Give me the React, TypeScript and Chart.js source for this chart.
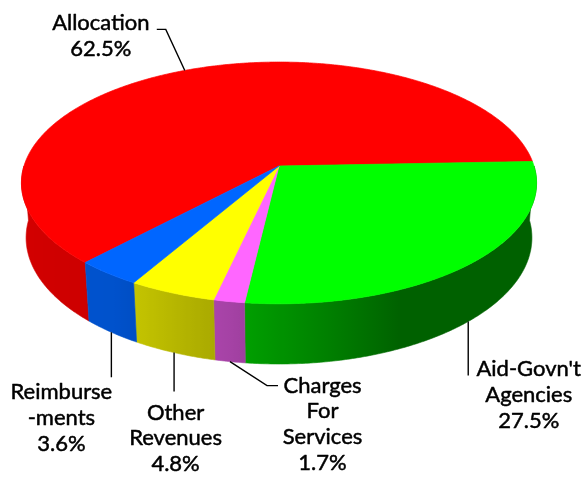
import React, { useEffect, useRef } from 'react';
import { Chart, registerables } from 'chart.js';

Chart.register(...registerables);

// ---- data ----
const categories = ['Allocation', "Aid-Govn't Agencies", 'Charges For Services', 'Other Revenues', 'Reimburse-ments'];
const values = [62.5, 27.5, 1.7, 4.8, 3.6];
const labelNameLines = [
  ['Allocation'],
  ["Aid-Govn't", 'Agencies'],
  ['Charges', 'For', 'Services'],
  ['Other', 'Revenues'],
  ['Reimburse', '-ments'],
];
const sliceColors = ['#ff0000', '#00ff00', '#ff66ff', '#ffff00', '#0066ff'];

// ---- view / style ----
const W = 587;
const H = 477;
const CX = 279;
const CY = 166;
const FOCAL = 1613;
const DIST = 6.325;
const SIN_A = 0.4647;
const COS_A = 0.8855;
const THICK = 0.245;
const FONT = '22px Lato, "Noto Sans", sans-serif';
const LINE_H = 25.7;

// leader line paths and text placement, relative to the slice anchor
const labelLayout = [
  { path: [[0, 0], [-19, -41], [-28, -41]], text: [-84, -40.5] },
  { path: [[0, 0], [0, 54]], text: [60.5, 55] },
  { path: [[0, 0], [37, 24], [48, 24]], text: [92.5, 31] },
  { path: [[0, 0], [0, 39]], text: [1.5, 67] },
  { path: [[0, 0], [0, 45]], text: [-50, 67] },
];

function project(phi: number, bottom: boolean) {
  const u = Math.cos(phi);
  const v = Math.sin(phi);
  const h = bottom ? THICK : 0;
  const den = DIST + h * SIN_A - v * COS_A;
  return { x: CX + (FOCAL * u) / den, y: CY + (FOCAL * (h * COS_A + v * SIN_A)) / den };
}

function brightness(phi: number) {
  let deg = (phi * 180) / Math.PI;
  const pts = [[0, 0.38], [65, 0.38], [100, 0.65], [125, 0.8], [180, 0.84]];
  if (deg <= 0) return pts[0][1];
  for (let i = 1; i < pts.length; i++) {
    if (deg <= pts[i][0]) {
      const [a0, b0] = pts[i - 1];
      const [a1, b1] = pts[i];
      return b0 + ((b1 - b0) * (deg - a0)) / (a1 - a0);
    }
  }
  return pts[pts.length - 1][1];
}

function shade(hex: string, k: number) {
  const n = parseInt(hex.slice(1), 16);
  const r = Math.round(((n >> 16) & 255) * k);
  const g = Math.round(((n >> 8) & 255) * k);
  const b = Math.round((n & 255) * k);
  return `rgb(${r},${g},${b})`;
}

function drawSide(ctx: CanvasRenderingContext2D, a: number, b: number, color: string) {
  const n = Math.max(2, Math.ceil((b - a) / (Math.PI / 360)));
  ctx.beginPath();
  for (let j = 0; j <= n; j++) {
    const p = project(a + ((b - a) * j) / n, false);
    if (j === 0) ctx.moveTo(p.x, p.y);
    else ctx.lineTo(p.x, p.y);
  }
  for (let j = n; j >= 0; j--) {
    const p = project(a + ((b - a) * j) / n, true);
    ctx.lineTo(p.x, p.y);
  }
  ctx.closePath();
  const x0 = project(a, false).x;
  const x1 = project(b, false).x;
  let fill: any = shade(color, brightness((a + b) / 2));
  if (Math.abs(x1 - x0) > 0.5) {
    const g = ctx.createLinearGradient(x0, 0, x1, 0);
    for (let j = 0; j <= n; j++) {
      const phi = a + ((b - a) * j) / n;
      const pos = Math.min(1, Math.max(0, (project(phi, false).x - x0) / (x1 - x0)));
      g.addColorStop(pos, shade(color, brightness(phi)));
    }
    fill = g;
  }
  ctx.fillStyle = fill;
  ctx.strokeStyle = fill;
  ctx.lineWidth = 0.6;
  ctx.fill();
  ctx.stroke();
}

function drawTop(ctx: CanvasRenderingContext2D, s: number, e: number, color: string) {
  const n = Math.max(2, Math.ceil((e - s) / (Math.PI / 360)));
  ctx.beginPath();
  ctx.moveTo(CX, CY);
  for (let j = 0; j <= n; j++) {
    const p = project(s + ((e - s) * j) / n, false);
    ctx.lineTo(p.x, p.y);
  }
  ctx.closePath();
  ctx.fillStyle = color;
  ctx.strokeStyle = color;
  ctx.lineWidth = 0.7;
  ctx.lineJoin = 'round';
  ctx.fill();
  ctx.stroke();
}

const pie3dPlugin = {
  id: 'pie3d',
  beforeDatasetsDraw(chart: any) {
    const ctx: CanvasRenderingContext2D = chart.ctx;
    const meta = chart.getDatasetMeta(0);
    const TAU = Math.PI * 2;
    const arcs = meta.data.map((el: any, i: number) => {
      const p = el.getProps(['startAngle', 'endAngle'], true);
      return { i, s: p.startAngle as number, e: p.endAngle as number };
    });
    ctx.save();
    // side walls (front half only)
    arcs.forEach((a: any) => {
      for (let k = -2; k <= 2; k++) {
        const lo = Math.max(a.s, TAU * k);
        const hi = Math.min(a.e, TAU * k + Math.PI);
        if (hi > lo) drawSide(ctx, lo - TAU * k, hi - TAU * k, sliceColors[a.i]);
      }
    });
    // top faces
    arcs.forEach((a: any) => drawTop(ctx, a.s, a.e, sliceColors[a.i]));
    // labels with leader lines
    ctx.font = FONT;
    ctx.textAlign = 'center';
    ctx.textBaseline = 'alphabetic';
    arcs.forEach((a: any) => {
      const mid = (a.s + a.e) / 2;
      const front = Math.sin(mid) > 0;
      const anchor = project(mid, front);
      const lay = labelLayout[a.i];
      ctx.beginPath();
      lay.path.forEach(([dx, dy], j) => {
        if (j === 0) ctx.moveTo(anchor.x + dx, anchor.y + dy);
        else ctx.lineTo(anchor.x + dx, anchor.y + dy);
      });
      ctx.strokeStyle = '#000';
      ctx.lineWidth = 1.4;
      ctx.lineJoin = 'miter';
      ctx.stroke();
      const lines = [...labelNameLines[a.i], `${values[a.i].toFixed(1)}%`];
      ctx.fillStyle = '#000';
      ctx.lineWidth = 0.5;
      ctx.lineJoin = 'round';
      lines.forEach((t, j) => {
        const tx = anchor.x + lay.text[0];
        const ty = anchor.y + lay.text[1] + j * LINE_H;
        ctx.fillText(t, tx, ty);
        ctx.strokeText(t, tx, ty);
      });
    });
    ctx.restore();
    return false;
  },
};

export default function App() {
  const ref = useRef<HTMLCanvasElement | null>(null);
  useEffect(() => {
    if (!ref.current) return;
    const chart = new Chart(ref.current, {
      type: 'pie',
      data: {
        labels: categories,
        datasets: [{ data: values, backgroundColor: sliceColors, borderWidth: 0 }],
      },
      options: {
        responsive: false,
        animation: false,
        rotation: 223,
        layout: { padding: 0 },
        plugins: { legend: { display: false }, tooltip: { enabled: false } },
      },
      plugins: [pie3dPlugin],
    } as any);
    return () => chart.destroy();
  }, []);
  return (
    <div style={{ position: 'fixed', left: 0, top: 0, width: W, height: H, background: '#fff' }}>
      <canvas ref={ref} width={W} height={H} style={{ display: 'block' }} />
    </div>
  );
}
